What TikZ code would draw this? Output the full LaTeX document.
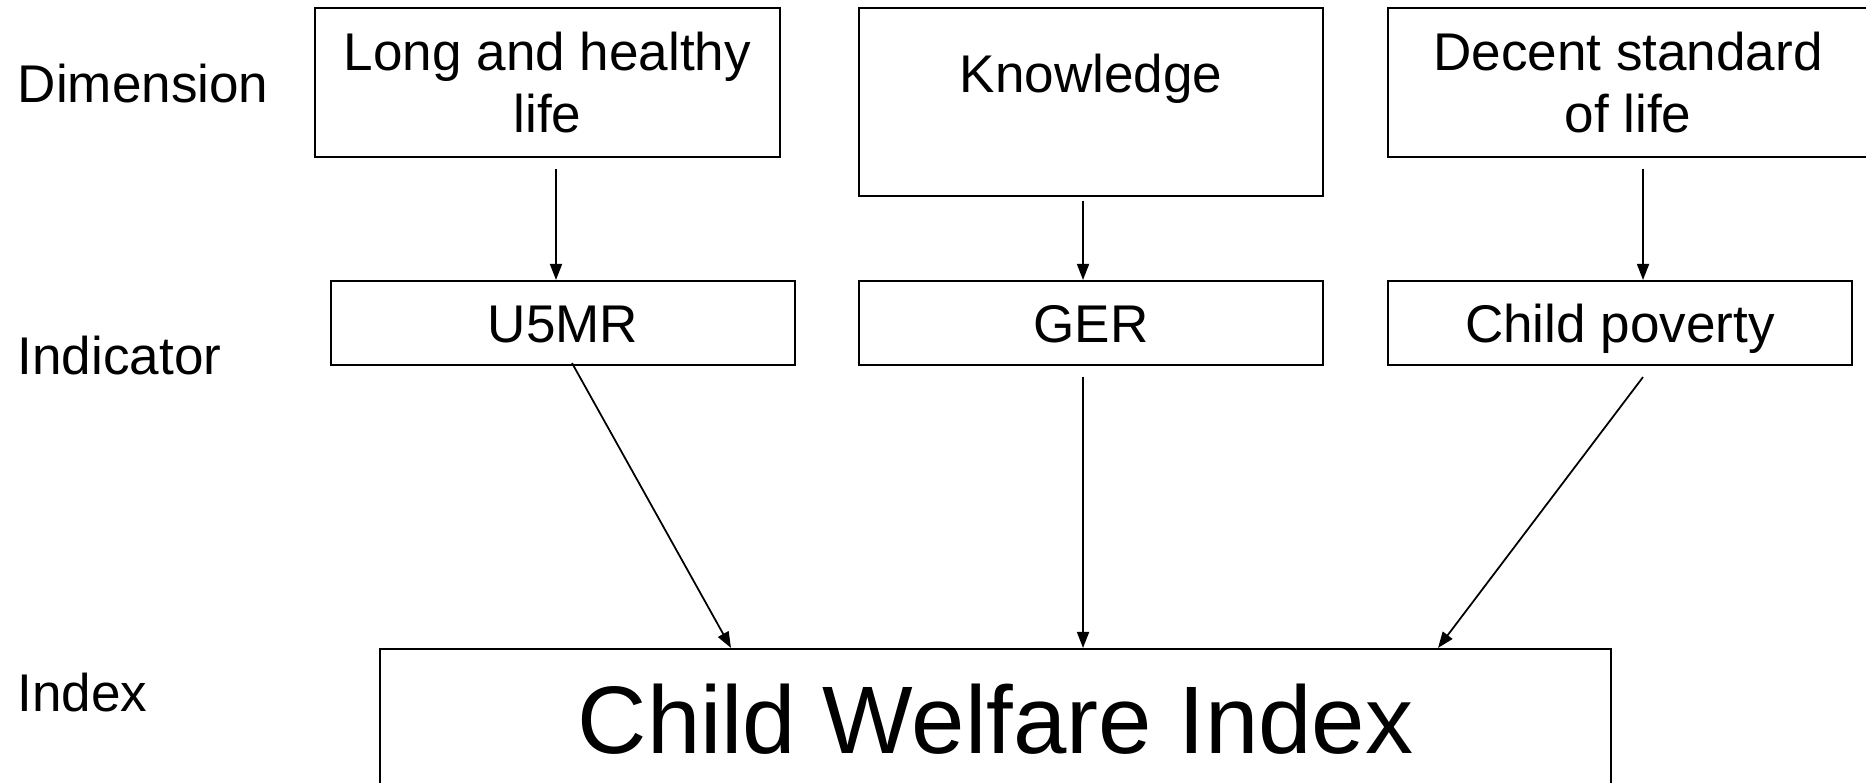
\documentclass[tikz,border=0pt]{standalone}
\usepackage{fontspec}
\setmainfont{Liberation Sans}
\usetikzlibrary{arrows.meta}

\begin{document}
\begin{tikzpicture}[
    y=-1cm,
    dimbox/.style={rectangle, draw=black, line width=0.6pt, align=center, inner sep=0pt,
        font=\fontsize{15.1}{17.9}\selectfont},
    indbox/.style={dimbox, minimum width=4.64cm, minimum height=0.84cm, text height=0.45cm, text depth=0.05cm},
    arr/.style={-{Triangle[length=0.16cm, width=0.12cm]}, line width=0.5pt},
    rowlabel/.style={anchor=west, inner sep=0pt, font=\fontsize{15.1}{17.9}\selectfont}
]
    \useasboundingbox (0,0) rectangle (18.66,7.83);

    \node[rowlabel] at (0.17,0.84) (ldim) {Dimension};
    \node[rowlabel] at (0.17,3.56) (lind) {Indicator};
    \node[rowlabel] at (0.17,6.93) (lidx) {Index};

    \node[dimbox, minimum width=4.65cm, minimum height=1.49cm] at (5.475,0.825) (dim1) {Long and healthy\\life};
    \node[dimbox, minimum width=4.64cm, minimum height=1.88cm, text depth=0.58cm] at (10.91,1.02) (dim2) {Knowledge};
    \node[dimbox, minimum width=4.80cm, minimum height=1.49cm] at (16.28,0.825) (dim3) {Decent standard\\of life};

    \node[indbox] at (5.63,3.23) (ind1) {U5MR};
    \node[indbox] at (10.91,3.23) (ind2) {GER};
    \node[indbox] at (16.20,3.23) (ind3) {Child poverty};

    \node[dimbox, minimum width=12.31cm, minimum height=1.40cm, font=\fontsize{27.3}{32}\selectfont] at (9.955,7.19) (cwi) {Child Welfare Index};

    \draw[arr] ([xshift=0.085cm, yshift=-0.11cm]dim1.south) -- ([xshift=-0.07cm]ind1.north);
    \draw[arr] ([xshift=-0.08cm, yshift=-0.04cm]dim2.south) -- ([xshift=-0.08cm]ind2.north);
    \draw[arr] ([xshift=0.15cm, yshift=-0.11cm]dim3.south) -- ([xshift=0.23cm]ind3.north);

    \draw[arr] ([xshift=0.09cm, yshift=0.03cm]ind1.south) -- ([xshift=-2.645cm]cwi.north);
    \draw[arr] ([xshift=-0.08cm, yshift=-0.11cm]ind2.south) -- ([xshift=0.875cm]cwi.north);
    \draw[arr] ([xshift=0.23cm, yshift=-0.11cm]ind3.south) -- ([xshift=4.425cm]cwi.north);
\end{tikzpicture}
\end{document}
